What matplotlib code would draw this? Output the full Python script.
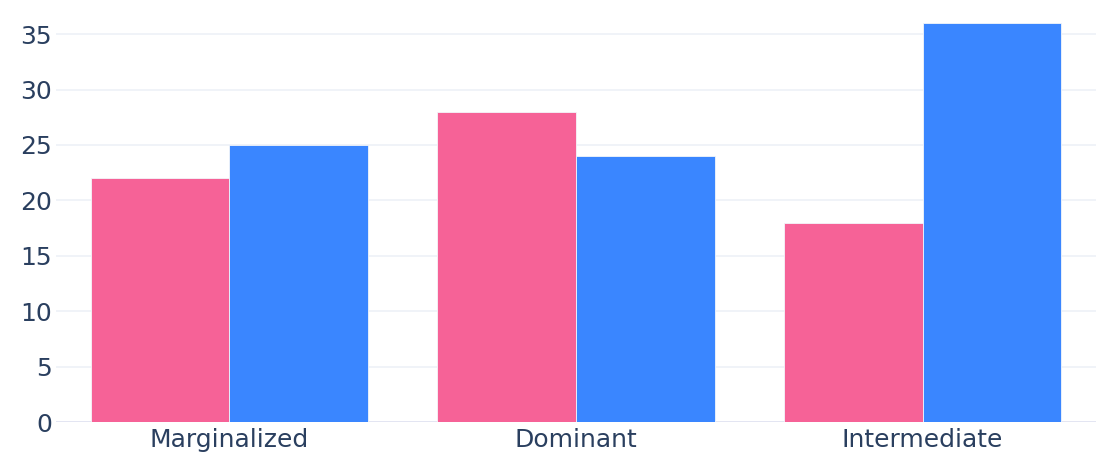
import matplotlib
matplotlib.use("Agg")
import matplotlib.pyplot as plt
import numpy as np

plt.rcParams["font.family"] = ["DejaVu Sans"]

categories = ["Marginalized", "Dominant", "Intermediate"]
series_a = [22, 28, 18]
series_b = [25, 24, 36]

PINK = "#F66297"
BLUE = "#3A86FF"
TEXT = "#2a3f5f"

fig = plt.figure(figsize=(11.07, 4.59), dpi=100)
ax = fig.add_axes([56 / 1107, 37 / 459, (1096 - 56) / 1107, 420 / 459])

x = np.arange(len(categories))
w = 0.4
ax.bar(x - w / 2, series_a, width=w, color=PINK, edgecolor="#f3f6fa", linewidth=0.6, zorder=3)
ax.bar(x + w / 2, series_b, width=w, color=BLUE, edgecolor="#f3f6fa", linewidth=0.6, zorder=3)

ax.set_xlim(-0.5, len(categories) - 0.5)
ax.set_ylim(0, 37.9)
ax.set_yticks(np.arange(0, 36, 5))
ax.set_xticks(x)
ax.set_xticklabels(categories)

ax.grid(axis="y", color="#EEF1F7", linewidth=1.2, zorder=0)
ax.axhline(0, color="#E2E4F2", linewidth=2, zorder=2)
for s in ax.spines.values():
    s.set_visible(False)
ax.tick_params(length=0, labelsize=18, labelcolor=TEXT)
ax.tick_params(axis="y", pad=3)
ax.tick_params(axis="x", pad=4)

fig.savefig("out.png", dpi=100, facecolor="white")
